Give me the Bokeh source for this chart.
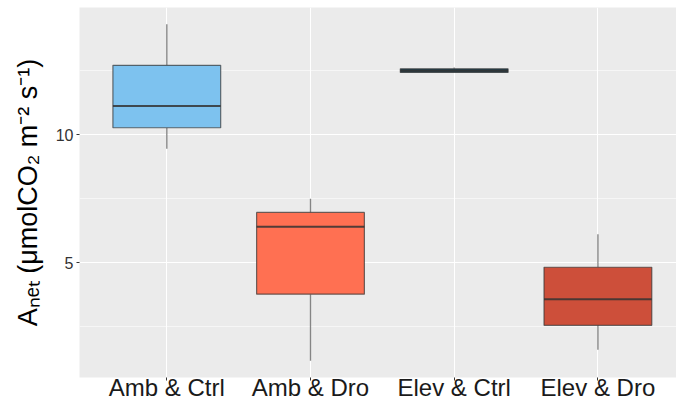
from bokeh.plotting import figure
from bokeh.models import ColumnDataSource, FixedTicker, Range1d
from bokeh.transform import dodge
from bokeh.embed import file_html
from bokeh.resources import INLINE

# ---- data ----
categories = ["Amb & Ctrl", "Amb & Dro", "Elev & Ctrl", "Elev & Dro"]
whisker_low = [9.45, 1.17, 12.43, 1.60]
q1 = [10.27, 3.77, 12.43, 2.55]
median = [11.12, 6.40, 12.50, 3.57]
q3 = [12.71, 6.96, 12.57, 4.82]
whisker_high = [14.31, 7.50, 12.62, 6.11]
fill_colors = ["#7DC2EF", "#FF7052", "#1F4454", "#CD4F3A"]
y_ticks = [5, 10]
y_minor = [2.5, 7.5, 12.5]

xpos = list(range(1, len(categories) + 1))
src = ColumnDataSource(dict(x=xpos, lo=whisker_low, q1=q1, med=median, q3=q3,
                            hi=whisker_high, color=fill_colors))

p = figure(width=676, height=406, output_backend="svg", toolbar_location=None,
           x_range=Range1d(0.3925, 4.547), y_range=Range1d(0.513, 14.967),
           min_border_left=79, min_border_right=0, min_border_top=7,
           min_border_bottom=29)

p.background_fill_color = "#EBEBEB"
p.border_fill_color = "white"
p.outline_line_color = None

FONT = "Liberation Sans"
# whiskers
p.segment(x0="x", x1="x", y0="q3", y1="hi", source=src,
          line_color="#333333", line_alpha=0.6, line_width=1.3)
p.segment(x0="x", x1="x", y0="lo", y1="q1", source=src,
          line_color="#333333", line_alpha=0.6, line_width=1.3)
# boxes
p.vbar(x="x", width=0.75, bottom="q1", top="q3", source=src,
       fill_color="color", line_color="#333333", line_alpha=0.7, line_width=1.2)
# medians
p.segment(x0=dodge("x", -0.375), x1=dodge("x", 0.375), y0="med", y1="med",
          source=src, line_color="#333333", line_alpha=0.85, line_width=2)

# grids
p.xgrid.ticker = FixedTicker(ticks=xpos)
p.xgrid.grid_line_color = "white"
p.xgrid.grid_line_width = 1.1
p.ygrid.ticker = FixedTicker(ticks=y_ticks, minor_ticks=y_minor)
p.ygrid.grid_line_color = "white"
p.ygrid.grid_line_width = 1.1
p.ygrid.minor_grid_line_color = "white"
p.ygrid.minor_grid_line_width = 0.55

# x axis
xa = p.xaxis[0]
xa.ticker = FixedTicker(ticks=xpos)
xa.major_label_overrides = {i: c for i, c in zip(xpos, categories)}
xa.axis_line_color = None
xa.major_tick_in = 0
xa.major_tick_out = 3
xa.major_tick_line_color = "#333333"
xa.minor_tick_line_color = None
xa.major_label_standoff = -7
xa.major_label_text_font = FONT
xa.major_label_text_font_size = "24px"
xa.major_label_text_color = "#1A1A1A"

# y axis
ya = p.yaxis[0]
ya.ticker = FixedTicker(ticks=y_ticks, minor_ticks=y_minor)
ya.axis_line_color = None
ya.major_tick_in = 0
ya.major_tick_out = 3
ya.major_tick_line_color = "#333333"
ya.minor_tick_in = 0
ya.minor_tick_out = 0
ya.minor_tick_line_color = None
ya.major_label_standoff = 3
ya.major_label_text_font = FONT
ya.major_label_text_font_size = "16px"
ya.major_label_text_color = "#333333"
ya.axis_label = "A\u2099\u2091\u209c (\u03bcmolCO\u2082 m\u207b\u00b2 s\u207b\u00b9)"
ya.axis_label_text_font = FONT
ya.axis_label_text_font_style = "normal"
ya.axis_label_text_font_size = "27px"
ya.axis_label_text_color = "#000000"
ya.axis_label_standoff = 10

open("out.html", "w").write(file_html(p, INLINE))
